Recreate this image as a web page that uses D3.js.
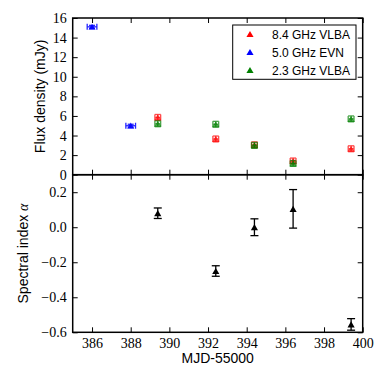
<!DOCTYPE html>
<html>
<head>
<meta charset="utf-8">
<script src="https://cdn.jsdelivr.net/npm/d3@7"></script>
<style>
  body { margin: 0; background: #fff; }
  .lbl { font-family: "Liberation Sans", Arial, sans-serif; font-size: 14px; }
</style>
</head>
<body>
<script>
// data
const evnMjd = [386, 388];
const evnFlux = [15.1, 5.0];
const evnXerr = [0.25, 0.25];

const vlbaMjd = [389.4, 392.4, 394.4, 396.4, 399.4];
const flux84 = [5.85, 3.65, 3.05, 1.4, 2.65];
const flux23 = [5.2, 5.15, 3.0, 1.15, 5.7];
const fluxErr = [0.3, 0.3, 0.3, 0.3, 0.3];

const alphaVal = [0.08, -0.25, 0.0, 0.105, -0.555];
const alphaErr = [0.03, 0.03, 0.048, 0.11, 0.033];

const xTicks = [386, 388, 390, 392, 394, 396, 398, 400];
const fluxTicks = [0, 2, 4, 6, 8, 10, 12, 14, 16];
const alphaTicks = [-0.6, -0.4, -0.2, 0.0, 0.2];

const legendItems = [
  {label: "8.4 GHz VLBA", color: "#ff0000"},
  {label: "5.0 GHz EVN", color: "#0000ff"},
  {label: "2.3 GHz VLBA", color: "#008000"}
];

const W = 382, H = 382;
const mLeft = 72.7, mRight = 362.7, mTop = 18, mMid = 174.7, mBottom = 332.3;

const svg = d3.select("body").append("svg")
  .attr("width", W).attr("height", H);

const x = d3.scaleLinear().domain([385, 400]).range([mLeft, mRight]);
const yF = d3.scaleLinear().domain([0, 16]).range([mMid, mTop]);
const yA = d3.scaleLinear().domain([-0.6, 0.3]).range([mBottom, mMid]);

const tri = d3.symbol().type(d3.symbolTriangle).size(22);

function frame(y0, y1, yScale, yTickVals, fmt, showX) {
  const g = svg.append("g");
  const tl = 5;
  // ticks point inward, like the classic matplotlib look
  const bx = g.append("g").attr("transform", `translate(0,${y1})`)
    .call(d3.axisBottom(x).tickValues(xTicks).tickSizeInner(-tl).tickSizeOuter(0)
      .tickPadding(6).tickFormat(showX ? d3.format("d") : ""));
  const tx = g.append("g").attr("transform", `translate(0,${y0})`)
    .call(d3.axisTop(x).tickValues(xTicks).tickSizeInner(-tl).tickSizeOuter(0).tickFormat(""));
  const ly = g.append("g").attr("transform", `translate(${mLeft},0)`)
    .call(d3.axisLeft(yScale).tickValues(yTickVals).tickSizeInner(-tl).tickSizeOuter(0)
      .tickPadding(6).tickFormat(fmt));
  const ry = g.append("g").attr("transform", `translate(${mRight},0)`)
    .call(d3.axisRight(yScale).tickValues(yTickVals).tickSizeInner(-tl).tickSizeOuter(0).tickFormat(""));
  [bx, tx, ly, ry].forEach(a => {
    a.select(".domain").remove();
    a.selectAll("line").attr("stroke", "#000").attr("stroke-width", 1);
    a.selectAll("text").attr("fill", "#000")
      .style("font-family", "'Liberation Serif', 'DejaVu Serif', serif")
      .style("font-size", "14px");
  });
  g.append("rect").attr("x", mLeft).attr("y", y0)
    .attr("width", mRight - mLeft).attr("height", y1 - y0)
    .attr("fill", "none").attr("stroke", "#000").attr("stroke-width", 1.5);
}

frame(mTop, mMid, yF, fluxTicks, d3.format("d"), false);
frame(mMid, mBottom, yA, alphaTicks, d3.format(".1f"), true);

// error bar helper
function errbars(g, xs, ys, xe, ye, color, opacity, cap) {
  xs.forEach((xv, i) => {
    const cx = x(xv), cy = ys(i);
    const e = g.append("g").attr("stroke", color).attr("stroke-width", 1.3).attr("opacity", opacity);
    if (ye) {
      const ya = ye(i)[0], yb = ye(i)[1];
      e.append("line").attr("x1", cx).attr("x2", cx).attr("y1", ya).attr("y2", yb);
      e.append("line").attr("x1", cx - cap).attr("x2", cx + cap).attr("y1", ya).attr("y2", ya);
      e.append("line").attr("x1", cx - cap).attr("x2", cx + cap).attr("y1", yb).attr("y2", yb);
    }
    if (xe) {
      const xa = x(xv - xe[i]), xb = x(xv + xe[i]);
      e.append("line").attr("x1", xa).attr("x2", xb).attr("y1", cy).attr("y2", cy);
      e.append("line").attr("x1", xa).attr("x2", xa).attr("y1", cy - cap).attr("y2", cy + cap);
      e.append("line").attr("x1", xb).attr("x2", xb).attr("y1", cy - cap).attr("y2", cy + cap);
    }
    g.append("path").attr("d", tri).attr("fill", color).attr("opacity", opacity)
      .attr("transform", `translate(${cx},${cy + 1})`);
  });
}

const pts = svg.append("g");
errbars(pts, evnMjd, i => yF(evnFlux[i]), evnXerr,
  i => [yF(evnFlux[i] + 0.15), yF(evnFlux[i] - 0.15)], "#0000ff", 0.85, 3);
errbars(pts, vlbaMjd, i => yF(flux84[i]), vlbaMjd.map(() => 0.15),
  i => [yF(flux84[i] + fluxErr[i]), yF(flux84[i] - fluxErr[i])], "#ff0000", 0.7, 3);
errbars(pts, vlbaMjd, i => yF(flux23[i]), vlbaMjd.map(() => 0.15),
  i => [yF(flux23[i] + fluxErr[i]), yF(flux23[i] - fluxErr[i])], "#008000", 0.7, 3);

errbars(pts, vlbaMjd, i => yA(alphaVal[i]), null,
  i => [yA(alphaVal[i] + alphaErr[i]), yA(alphaVal[i] - alphaErr[i])], "#000", 1, 4);

// legend
const lg = svg.append("g");
lg.append("rect").attr("x", 232.7).attr("y", 25).attr("width", 123.3).attr("height", 54.3)
  .attr("fill", "#fff").attr("stroke", "#000").attr("stroke-width", 1);
legendItems.forEach((d, i) => {
  const yy = 34 + i * 18;
  lg.append("path").attr("d", d3.symbol().type(d3.symbolTriangle).size(22))
    .attr("fill", d.color).attr("transform", `translate(250,${yy + 1})`);
  lg.append("text").attr("class", "lbl").attr("x", 272).attr("y", yy + 4.5)
    .style("font-size", "12px").text(d.label);
});

// axis labels
svg.append("text").attr("class", "lbl").attr("text-anchor", "middle")
  .attr("transform", `translate(45,${(mTop + mMid) / 2}) rotate(-90)`)
  .text("Flux density (mJy)");
const sl = svg.append("text").attr("class", "lbl").attr("text-anchor", "middle")
  .attr("transform", `translate(28,${(mMid + mBottom) / 2}) rotate(-90)`);
sl.append("tspan").text("Spectral index ");
sl.append("tspan").style("font-family", "'Liberation Serif', serif").style("font-style", "italic").text("α");
svg.append("text").attr("class", "lbl").attr("text-anchor", "middle")
  .attr("x", (mLeft + mRight) / 2).attr("y", 363).text("MJD-55000");
</script>
</body>
</html>
